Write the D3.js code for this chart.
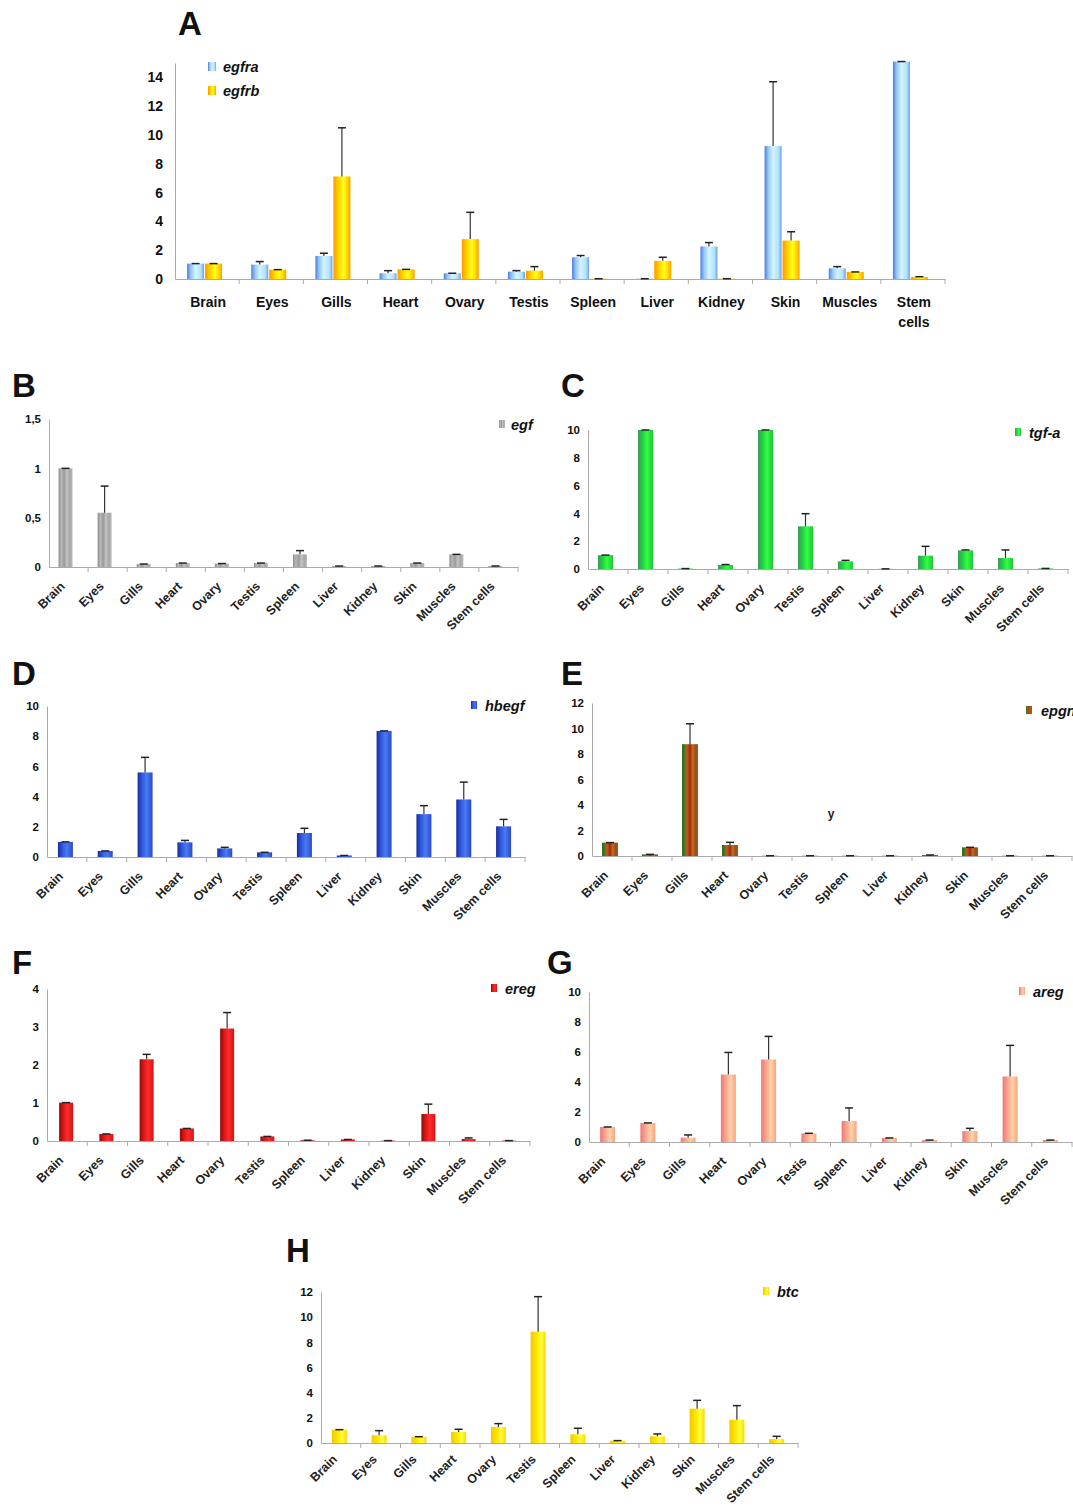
<!DOCTYPE html>
<html>
<head>
<meta charset="utf-8">
<script src="https://cdn.jsdelivr.net/npm/d3@7"></script>
<style>
  body { margin: 0; background: #fff; }
  text { font-family: "Liberation Sans", Arial, sans-serif; }
</style>
</head>
<body>
<svg id="fig" width="1073" height="1506"></svg>
<script>
// tissues on the x axis
const tissues = ["Brain", "Eyes", "Gills", "Heart", "Ovary", "Testis", "Spleen", "Liver", "Kidney", "Skin", "Muscles", "Stem cells"];

// relative expression (mean) and upper error (SD)
const egfra    = [1.07, 1.0, 1.6, 0.4, 0.4, 0.51, 1.51, 0.02, 2.26, 9.23, 0.74, 15.1];
const egfraSd  = [0, 0.21, 0.19, 0.18, 0, 0.07, 0.12, 0, 0.27, 4.47, 0.12, 0];
const egfrb    = [1.07, 0.65, 7.12, 0.67, 2.77, 0.58, 0.02, 1.26, 0.02, 2.67, 0.49, 0.14];
const egfrbSd  = [0, 0, 3.38, 0, 1.86, 0.28, 0, 0.25, 0, 0.61, 0, 0.02];

const egf      = [1.0, 0.55, 0.03, 0.04, 0.035, 0.04, 0.128, 0.01, 0.01, 0.04, 0.128, 0.01];
const egfSd    = [0, 0.27, 0, 0, 0, 0, 0.038, 0, 0, 0, 0, 0];

const tgfa     = [1.0, 10.0, 0.03, 0.29, 10.0, 3.07, 0.55, 0.01, 0.96, 1.34, 0.79, 0.04];
const tgfaSd   = [0, 0, 0, 0.03, 0, 0.91, 0.07, 0, 0.67, 0.03, 0.58, 0];

const hbegf    = [1.0, 0.4, 5.6, 0.97, 0.57, 0.31, 1.59, 0.1, 8.35, 2.84, 3.81, 2.03];
const hbegfSd  = [0, 0, 1.0, 0.13, 0.07, 0, 0.31, 0, 0, 0.56, 1.15, 0.46];

const epgn     = [1.05, 0.13, 8.77, 0.86, 0.02, 0.02, 0.02, 0.02, 0.08, 0.68, 0.02, 0.02];
const epgnSd   = [0, 0, 1.6, 0.21, 0, 0, 0, 0, 0, 0, 0, 0];

const ereg     = [1.01, 0.185, 2.15, 0.33, 2.96, 0.12, 0.02, 0.04, 0.01, 0.71, 0.05, 0.01];
const eregSd   = [0, 0, 0.13, 0, 0.42, 0, 0, 0, 0, 0.26, 0.03, 0];

const areg     = [1.0, 1.27, 0.29, 4.5, 5.5, 0.58, 1.4, 0.27, 0.13, 0.73, 4.37, 0.13];
const aregSd   = [0, 0, 0.18, 1.47, 1.54, 0, 0.87, 0, 0, 0.18, 2.07, 0];

const btc      = [1.06, 0.61, 0.5, 0.87, 1.27, 8.85, 0.69, 0.19, 0.53, 2.73, 1.85, 0.32];
const btcSd    = [0, 0.37, 0, 0.22, 0.27, 2.78, 0.48, 0, 0.19, 0.66, 1.12, 0.21];

// y ticks per panel
const ticksA = [0, 2, 4, 6, 8, 10, 12, 14];
const ticksB = [0, 0.5, 1, 1.5];
const ticks10 = [0, 2, 4, 6, 8, 10];
const ticks12 = [0, 2, 4, 6, 8, 10, 12];
const ticksF = [0, 1, 2, 3, 4];

// gradients (horizontal, across the bar)
const grads = {
  egfra: [[0, "#4a7ee2"], [0.22, "#98c6f6"], [0.5, "#d2f5ff"], [0.82, "#b2e2fa"], [1, "#6e9ee8"]],
  egfrb: [[0, "#ff9800"], [0.3, "#ffd400"], [0.6, "#ffff18"], [0.85, "#ffcc00"], [1, "#ff9c00"]],
  egf:   [[0, "#8c8c8c"], [0.2, "#b8b8b8"], [0.4, "#9a9a9a"], [0.6, "#c4c4c4"], [0.8, "#a6a6a6"], [1, "#bdbdbd"]],
  tgfa:  [[0, "#3c9a5c"], [0.3, "#22d044"], [0.6, "#33ff44"], [1, "#22c43a"]],
  hbegf: [[0, "#1a2c9c"], [0.3, "#2e58de"], [0.6, "#4a7af2"], [1, "#2a48cc"]],
  epgn:  [[0, "#2f6a1c"], [0.18, "#4c7a22"], [0.3, "#c85a1c"], [0.5, "#9c2c10"], [0.68, "#d8641e"], [0.85, "#7a5a1c"], [1, "#c04a18"]],
  ereg:  [[0, "#8c0c0c"], [0.3, "#dc1616"], [0.6, "#ff2c2c"], [1, "#d41212"]],
  areg:  [[0, "#f07676"], [0.35, "#f8a890"], [0.65, "#fdd2a8"], [1, "#f6a482"]],
  btc:   [[0, "#f2c800"], [0.4, "#ffe600"], [0.7, "#ffff3c"], [1, "#ffd600"]]
};

const svg = d3.select("#fig");
svg.append("rect").attr("width", 1073).attr("height", 1506).attr("fill", "#fff");

const defs = svg.append("defs");
Object.keys(grads).forEach(function (k) {
  const g = defs.append("linearGradient").attr("id", "g-" + k)
    .attr("x1", "0").attr("x2", "1").attr("y1", "0").attr("y2", "0");
  grads[k].forEach(function (s) {
    g.append("stop").attr("offset", s[0]).attr("stop-color", s[1]);
  });
});

// panel layout
const panels = [
  {letter: "A", lx: 178, ly: 35, x0: 175, x1: 945, y0: 279, yTop: 63, max: 15, ticks: ticksA, big: true,
   series: [{name: "egfra", v: egfra, sd: egfraSd, off: -20, w: 17}, {name: "egfrb", v: egfrb, sd: egfrbSd, off: -2, w: 17}],
   legend: [208, 62], ltx: 15},
  {letter: "B", lx: 12, ly: 397, x0: 49, x1: 518, y0: 567, yTop: 419, max: 1.5, ticks: ticksB, comma: true,
   series: [{name: "egf", v: egf, sd: egfSd, off: -10, w: 14}], legend: [499, 420], ltx: 12},
  {letter: "C", lx: 561, ly: 397, x0: 588, x1: 1068, y0: 569, yTop: 430, max: 10, ticks: ticks10,
   series: [{name: "tgf-a", key: "tgfa", v: tgfa, sd: tgfaSd, off: -10, w: 15}], legend: [1015, 428], ltx: 14},
  {letter: "D", lx: 12, ly: 685, x0: 47, x1: 525, y0: 857, yTop: 706, max: 10, ticks: ticks10,
   series: [{name: "hbegf", v: hbegf, sd: hbegfSd, off: -9, w: 15}], legend: [471, 701], ltx: 14},
  {letter: "E", lx: 561, ly: 685, x0: 592, x1: 1072, y0: 856, yTop: 703, max: 12, ticks: ticks12,
   series: [{name: "epgn", v: epgn, sd: epgnSd, off: -10, w: 16}], legend: [1026, 706], ltx: 15},
  {letter: "F", lx: 12, ly: 974, x0: 47, x1: 530, y0: 1141, yTop: 989, max: 4, ticks: ticksF,
   series: [{name: "ereg", v: ereg, sd: eregSd, off: -8, w: 14}], legend: [491, 984], ltx: 14},
  {letter: "G", lx: 547, ly: 974, x0: 589, x1: 1072, y0: 1142, yTop: 992, max: 10, ticks: ticks10,
   series: [{name: "areg", v: areg, sd: aregSd, off: -9, w: 15}], legend: [1019, 987], ltx: 14},
  {letter: "H", lx: 286, ly: 1262, x0: 321, x1: 798, y0: 1443, yTop: 1292, max: 12, ticks: ticks12, labDy: 17,
   series: [{name: "btc", v: btc, sd: btcSd, off: -9, w: 15}], legend: [763, 1287], ltx: 14}
];

panels.forEach(drawPanel);

// the stray "y" inside panel E
svg.append("text").attr("x", 831).attr("y", 818).attr("text-anchor", "middle")
  .attr("font-size", 12).attr("font-weight", "bold").attr("fill", "#222").text("y");

function drawPanel(p) {
  const g = svg.append("g");
  const x = d3.scaleBand().domain(tissues).range([p.x0, p.x1]).paddingInner(0).paddingOuter(0);
  const y = d3.scaleLinear().domain([0, p.max]).range([p.y0, p.yTop]);
  const fs = p.big ? 14 : 11.5;

  // panel letter
  svg.append("text").attr("x", p.lx).attr("y", p.ly)
    .attr("font-family", "'Liberation Serif', 'Times New Roman', serif")
    .attr("font-weight", "bold").attr("font-size", 33).attr("fill", "#111")
    .text(p.letter);

  // y axis
  const yAxis = d3.axisLeft(y).tickValues(p.ticks).tickSize(0).tickPadding(p.big ? 12 : 8)
    .tickFormat(function (d) { return p.comma ? String(d).replace(".", ",") : d; });
  const ya = g.append("g").attr("transform", "translate(" + p.x0 + ",0)").call(yAxis);
  ya.select(".domain").attr("stroke", "#aaa");
  ya.selectAll("text").attr("font-size", fs).attr("font-weight", "bold").attr("fill", "#111")
    .attr("font-family", "'Liberation Sans', Arial, sans-serif");

  // x axis line and category boundary ticks
  const xa = g.append("g").attr("transform", "translate(0," + p.y0 + ")")
    .call(d3.axisBottom(x).tickSize(0).tickFormat(""));
  xa.select(".domain").attr("stroke", "#aaa");
  g.selectAll(".bound").data(tissues.slice(1).concat(["end"])).enter().append("line")
    .attr("x1", function (d) { return d === "end" ? p.x1 : x(d); })
    .attr("x2", function (d) { return d === "end" ? p.x1 : x(d); })
    .attr("y1", p.y0).attr("y2", p.y0 + 5).attr("stroke", "#aaa");

  // bars + error bars
  p.series.forEach(function (s) {
    const key = s.key || s.name;
    const rows = tissues.map(function (t, i) { return {t: t, v: s.v[i], sd: s.sd[i]}; });
    const cx = function (d) { return x(d.t) + x.bandwidth() / 2 + s.off; };
    g.selectAll(".bar-" + key).data(rows).enter().append("rect")
      .attr("x", cx).attr("width", s.w)
      .attr("y", function (d) { return y(d.v); })
      .attr("height", function (d) { return y(0) - y(d.v); })
      .attr("fill", "url(#g-" + key + ")");
    const mid = function (d) { return cx(d) + s.w / 2; };
    g.selectAll(".err-" + key).data(rows).enter().append("line")
      .attr("x1", mid).attr("x2", mid)
      .attr("y1", function (d) { return y(d.v); })
      .attr("y2", function (d) { return y(d.v + d.sd); })
      .attr("stroke", "#333").attr("stroke-width", 1.2);
    g.selectAll(".cap-" + key).data(rows).enter().append("line")
      .attr("x1", function (d) { return mid(d) - 4; })
      .attr("x2", function (d) { return mid(d) + 4; })
      .attr("y1", function (d) { return y(d.v + d.sd); })
      .attr("y2", function (d) { return y(d.v + d.sd); })
      .attr("stroke", "#222").attr("stroke-width", 1.5);
  });

  // category labels
  if (p.big) {
    const lab = g.selectAll(".cat").data(tissues).enter().append("text")
      .attr("x", function (d) { return x(d) + x.bandwidth() / 2 + 1; })
      .attr("y", p.y0 + 28).attr("text-anchor", "middle")
      .attr("font-size", 14).attr("font-weight", "bold").attr("fill", "#111");
    lab.each(function (d) {
      const parts = d.split(" ");
      const el = d3.select(this);
      parts.forEach(function (w, i) {
        el.append("tspan").attr("x", el.attr("x")).attr("dy", i === 0 ? 0 : 20).text(w);
      });
    });
  } else {
    const dy = p.labDy || 20;
    g.selectAll(".cat").data(tissues).enter().append("text")
      .attr("transform", function (d) {
        return "translate(" + (x(d) + x.bandwidth() / 2 - 3) + "," + (p.y0 + dy) + ") rotate(-45)";
      })
      .attr("text-anchor", "end")
      .attr("font-size", 12.5).attr("font-weight", "bold").attr("fill", "#222")
      .text(function (d) { return d; });
  }

  // legend
  p.series.forEach(function (s, i) {
    const key = s.key || s.name;
    const lx = p.legend[0], ly = p.legend[1] + i * 24;
    g.append("rect").attr("x", lx).attr("y", ly).attr("width", p.big ? 8 : 6).attr("height", p.big ? 9 : 8)
      .attr("fill", "url(#g-" + key + ")");
    g.append("text").attr("x", lx + p.ltx).attr("y", ly + 10)
      .attr("font-size", 14.5).attr("font-weight", "bold").attr("font-style", "italic").attr("fill", "#111")
      .text(s.name);
  });
}
</script>
</body>
</html>
